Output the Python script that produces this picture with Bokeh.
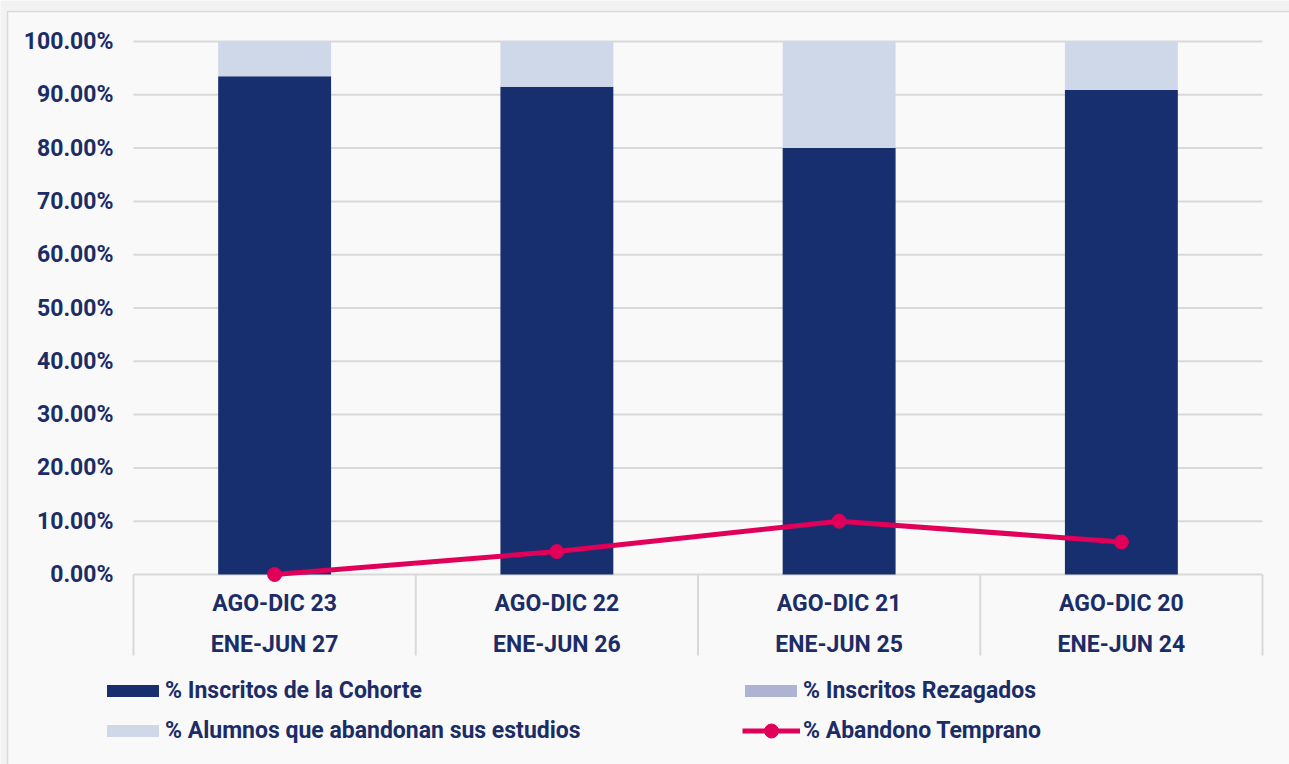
from bokeh.plotting import figure
from bokeh.models import Range1d, ColumnDataSource, Legend, LegendItem
from bokeh.core.properties import value
from bokeh.embed import file_html
from bokeh.resources import INLINE

# ---- data ----
periodo_inicio = ["AGO-DIC 23", "AGO-DIC 22", "AGO-DIC 21", "AGO-DIC 20"]
periodo_fin = ["ENE-JUN 27", "ENE-JUN 26", "ENE-JUN 25", "ENE-JUN 24"]
inscritos_cohorte = [93.5, 91.5, 80.0, 90.9]
inscritos_rezagados = [0.0, 0.0, 0.0, 0.0]
alumnos_abandonan = [6.5, 8.5, 20.0, 9.1]
abandono_temprano = [0.0, 4.3, 10.0, 6.1]
y_ticks = [0, 10, 20, 30, 40, 50, 60, 70, 80, 90, 100]

NAVY = "#172f6f"
LIGHT = "#cfd8e9"
REZ = "#aeb3d3"
PINK = "#e0005a"
TEXT = "#1b2c66"
GRID = "#d9d9d9"
BG_OUT = "#f2f2f2"
BG_IN = "#f9f9f9"
FONT = "Roboto"
FS = "23px"

W, H = 1289, 764
PL, PR, PT, PB = 133, 1262, 41, 574   # plot area in pixels
n = len(periodo_inicio)
ymax = 100.0
ppx = (PR - PL) / n          # pixels per category
ppy = (PB - PT) / ymax       # pixels per percent


def px_x(v):
    return (v - PL) / ppx


def px_y(v):
    return (PB - v) / ppy


xs = [i + 0.5 for i in range(n)]
src = ColumnDataSource(dict(x=xs, coh=inscritos_cohorte, rez=inscritos_rezagados,
                            aba=alumnos_abandonan, tem=abandono_temprano))

p = figure(width=W, height=H, output_backend="svg", toolbar_location=None,
           x_range=Range1d(px_x(0), px_x(W)), y_range=Range1d(px_y(H), px_y(0)),
           min_border=0, background_fill_color=BG_OUT, border_fill_color=BG_OUT,
           outline_line_color=None)
p.axis.visible = False
p.grid.visible = False

# chart-area panel with thin border (decoration)
p.quad(left=px_x(7), right=px_x(W + 20), top=px_y(11), bottom=px_y(H + 20),
       fill_color=BG_IN, line_color=GRID, line_width=1.5)

# gridlines
p.segment(x0=[0] * len(y_ticks), x1=[n] * len(y_ticks), y0=y_ticks, y1=y_ticks,
          line_color=GRID, line_width=2)
# category dividers below the axis
bounds = list(range(n + 1))
p.segment(x0=bounds, x1=bounds, y0=[0] * len(bounds), y1=[-81 / ppy] * len(bounds),
          line_color=GRID, line_width=2)

bars = p.vbar_stack(["coh", "rez", "aba"], x="x", width=0.4, source=src,
                    color=[NAVY, REZ, LIGHT], line_color=None)
ln = p.line("x", "tem", source=src, line_color=PINK, line_width=5)
mk = p.scatter("x", "tem", source=src, size=14, fill_color=PINK, line_color=PINK)

# y tick labels
p.text(x=[0] * len(y_ticks), y=y_ticks, text=[f"{t:.2f}%" for t in y_ticks],
       x_offset=-20, text_align="right", text_baseline="middle",
       text_font=value(FONT), text_font_style="bold", text_font_size=FS,
       text_color=TEXT)
# category labels (two lines)
p.text(x=xs, y=[0] * n, text=periodo_inicio, y_offset=29,
       text_align="center", text_baseline="middle",
       text_font=value(FONT), text_font_style="bold", text_font_size=FS,
       text_color=TEXT)
p.text(x=xs, y=[0] * n, text=periodo_fin, y_offset=70,
       text_align="center", text_baseline="middle",
       text_font=value(FONT), text_font_style="bold", text_font_size=FS,
       text_color=TEXT)

common = dict(background_fill_alpha=0, border_line_color=None, padding=0, margin=0,
              spacing=0, label_height=40, label_text_font=FONT,
              label_text_font_style="bold", label_text_font_size=FS,
              label_text_color=TEXT)

bar_items = [LegendItem(label="% Inscritos de la Cohorte", renderers=[bars[0]]),
             LegendItem(label="% Inscritos Rezagados", renderers=[bars[1]]),
             LegendItem(label="% Alumnos que abandonan sus estudios", renderers=[bars[2]])]
leg1 = Legend(items=bar_items, orientation="horizontal", ncols=2, location=(100, 14),
              glyph_width=65, glyph_height=15, label_standoff=0, label_width=573,
              **common)
p.add_layout(leg1, "center")

leg2 = Legend(items=[LegendItem(label="% Abandono Temprano", renderers=[ln, mk])],
              location=(742, 14), glyph_width=58, glyph_height=35, label_standoff=3,
              **common)
p.add_layout(leg2, "center")

open("out.html", "w").write(file_html(p, INLINE))
